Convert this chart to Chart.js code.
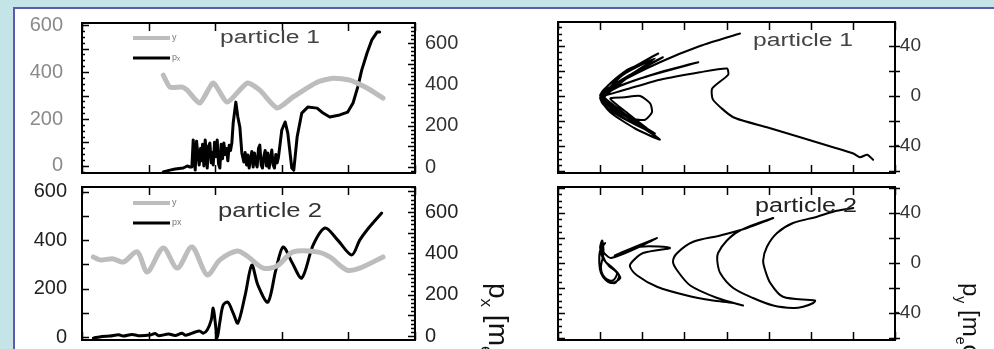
<!DOCTYPE html>
<html>
<head>
<meta charset="utf-8">
<script src="https://cdn.jsdelivr.net/npm/chart.js@4.4.1/dist/chart.umd.min.js"></script>
<style>
  html, body { margin: 0; padding: 0; }
  body { width: 994px; height: 349px; background: #c5e4e8; position: relative; overflow: hidden; }
  .panel { position: absolute; left: 13px; top: 7px; right: 0; bottom: 0; background: #fff;
           border-left: 2px solid #5c5caa; border-top: 2px solid #5c5caa; }
  canvas { position: absolute; display: block; }
</style>
</head>
<body>
<div class="panel"></div>
<canvas id="p1time" width="480" height="180" style="left:0;top:0"></canvas>
<canvas id="p2time" width="530" height="169" style="left:0;top:180px"></canvas>
<canvas id="p1phase" width="494" height="180" style="left:500px;top:0"></canvas>
<canvas id="p2phase" width="494" height="169" style="left:500px;top:180px"></canvas>
<script>
var FONT = '"Liberation Sans", Arial, Helvetica, sans-serif';
Chart.defaults.font.family = FONT;

// ---- particle 1, against time (top left) ----
var p1YTime = [1.22, 1.32, 1.50, 1.58, 1.77, 1.97, 2.18, 2.48, 2.67, 2.93, 3.17, 3.53, 3.77, 4.02, 4.28, 4.52];
var p1Y     = [387, 336, 336, 323, 268, 353, 272, 353, 323, 247, 294, 357, 374, 366, 332, 289];
var p1PxTime = [1.22, 1.32, 1.40, 1.52, 1.58, 1.62,
                1.65, 1.67, 1.69, 1.70, 1.72, 1.74, 1.76, 1.78, 1.79, 1.81, 1.83, 1.85, 1.87, 1.88,
                1.90, 1.92, 1.94, 1.96, 1.97, 1.99, 2.01, 2.03, 2.05, 2.07, 2.09, 2.11, 2.13, 2.15,
                2.17, 2.19, 2.21, 2.23, 2.25, 2.27,
                2.31, 2.34, 2.37, 2.40,
                2.43, 2.45, 2.47, 2.49, 2.51, 2.53, 2.55, 2.57, 2.59, 2.61, 2.63, 2.65, 2.67, 2.69,
                2.71, 2.73, 2.75, 2.77, 2.79, 2.81, 2.83, 2.85, 2.87, 2.89, 2.91, 2.93, 2.95,
                3.00, 3.05, 3.09, 3.15, 3.18, 3.23, 3.30, 3.39, 3.53, 3.62, 3.72, 3.87, 3.99, 4.07,
                4.14, 4.20, 4.28, 4.35, 4.43, 4.47];
var p1Px = [-24, -15, -10, -5, 5, 0,
            0, 131, 20, -15, 125, 60, 10, 90, 30, 110, 5, 131, 40, -5,
            100, 116, 20, 70, 10, 120, 50, 131, 15, -5, 110, 40, 116, 60,
            90, 30, 105, 80, 116, 213,
            314, 242, 194, 68,
            24, 70, 10, 58, -5, 40, 75, 0, 68, 20, 0, 90, 106, 10,
            -5, 50, 80, 5, 68, -5, 40, 82, 10, -5, 60, 20, 48,
            179, 218, 164, -5, -15, 145, 261, 290, 285, 261, 242, 252, 266, 310,
            387, 469, 552, 614, 653, 653];

// ---- particle 2, against time (bottom left) ----
var p2YTime = [0.17, 0.27, 0.47, 0.62, 0.83, 0.98, 1.22, 1.43, 1.65, 1.88, 2.07, 2.33, 2.48, 2.72, 2.93,
               3.17, 3.53, 3.72, 3.98, 4.17, 4.52];
var p2Y     = [331, 319, 323, 310, 352, 269, 368, 285, 372, 257, 319, 356, 335, 285, 294,
               352, 352, 331, 277, 285, 331];
var p2PxTime = [0.17, 0.30, 0.42, 0.55, 0.62, 0.75, 0.85, 1.02, 1.10, 1.15, 1.30, 1.40, 1.50, 1.55,
                1.62, 1.70, 1.77, 1.82, 1.88, 1.94, 1.97, 2.00, 2.03, 2.07, 2.12, 2.19,
                2.27, 2.34, 2.45, 2.55, 2.64, 2.79, 2.91, 3.02, 3.15, 3.30, 3.47, 3.65, 3.84, 4.05, 4.17,
                4.28, 4.50];
var p2Px = [-10, -2, 0, 6, 0, 8, 2, 5, 12, 2, 10, 3, 14, 4,
            10, 20, 24, 14, 29, 77, 135, 68, -10, 68, 150, 164,
            111, 63, 198, 343, 247, 164, 319, 431, 358, 281, 440, 523, 464, 392, 464,
            513, 595];

// ---- phase space (right column) ----
var p1PhX = [4.32, 3.37, 2.42, 1.47, 1.00, 1.24, 1.83, 2.42, 1.95, 1.28, 1.02, 1.59, 2.38, 1.71, 1.12,
             1.05, 1.59, 2.30, 1.76, 1.19, 1.00, 1.71, 2.49, 1.95, 1.24, 1.07, 1.52, 2.07, 2.19, 1.66,
             1.24, 1.59, 1.95, 2.19, 2.23, 2.07, 1.76, 1.47, 1.09,
             1.55, 2.30, 1.60, 1.02, 1.50, 2.35, 1.70, 1.05, 1.60, 2.20, 1.55, 1.03, 1.45, 2.10, 1.40, 1.04,
             1.95, 3.33, 2.42, 1.47, 1.05, 1.59,
             2.42, 3.37, 4.01, 4.04, 3.66, 3.68, 4.16, 4.96, 5.75, 6.53, 7.01, 7.17, 7.34, 7.48];
var p1PhY = [50, 40, 27, 11, -1, -13, -26, -35, -23, -7, 2, 19, 34, 21, 6,
             -3, -18, -30, -19, -6, 1, 17, 31, 21, 7, -5, -13, -25, -28, -14,
             -2, -1, 0, -6, -13, -19, -18, -11, 0,
             17, 30, 14, -3, -14, -33, -18, 2, 20, 28, 12, -4, -16, -27, -10, 1,
             14, 27, 19, 8, 0, 5,
             13, 19, 22, 17, 6, -3, -17, -25, -33, -41, -46, -49, -47, -51];
var p2PhX = [1.12, 1.00, 0.98, 1.02, 1.15, 1.35, 1.45, 1.30, 1.10, 1.00, 1.05, 1.08, 1.02, 1.12, 1.30,
             1.40, 1.20, 1.04, 1.06, 0.98, 1.05, 1.25, 1.48, 1.35, 1.15, 1.03, 1.26, 2.35, 1.35, 1.95,
             2.66, 2.02, 1.76, 1.71, 1.88, 2.35, 3.06, 3.68, 4.16, 4.39, 3.78, 3.14, 2.83,
             2.73, 2.83, 3.21, 3.85, 4.49, 5.11, 4.32, 4.01, 3.80, 3.78, 3.85, 4.16, 4.63, 5.11, 5.58,
             5.82, 6.06, 6.10, 5.34, 5.04, 4.92, 4.87, 4.96, 5.20, 5.58, 6.15, 6.53, 7.01];
var p2PhY = [16, 10, 0, -8, -14, -16, -10, -4, 2, 12, 18, 8, -4, -12, -14,
             -8, -2, 6, 16, 4, -10, -16, -12, -6, 0, 10, 4, 20, 6, 13,
             12, 8, 1, -3, -10, -19, -26, -30, -32, -34, -28, -18, -6,
             1, 8, 17, 22, 28, 36, 26, 18, 8, 2, -8, -20, -28, -34, -36,
             -35, -32, -30, -27, -16, -6, 2, 13, 24, 32, 37, 41, 44];

// tick labels
var timeTicks = [0, 200, 400, 600];
var phaseTicks = [-40, 0, 40];

function pairs(xs, ys) {
  return xs.map(function (x, i) { return { x: x, y: ys[i] }; });
}
function fixedTicks(values) {
  return function (scale) {
    scale.ticks = values.map(function (v) { return { value: v }; });
  };
}
// fixed axis width, and no extra room reserved for the end labels
function fixedWidth(w) {
  return function (scale) {
    scale.width = w;
    scale.paddingTop = 0;
    scale.paddingBottom = 0;
  };
}

// box with inward tick marks, drawn from the chart's own scales
var frameTicks = {
  id: 'frameTicks',
  afterDraw: function (chart, args, o) {
    var ctx = chart.ctx, a = chart.chartArea, xs = chart.scales.x;
    ctx.save();
    ctx.strokeStyle = '#000';
    ctx.lineWidth = 1.5;
    ctx.beginPath();
    for (var v = xs.min; v <= xs.max + 1e-9; v += o.xStep) {
      var px = Math.round(xs.getPixelForValue(v)) + 0.5;
      ctx.moveTo(px, a.bottom); ctx.lineTo(px, a.bottom - o.xLen);
      ctx.moveTo(px, a.top); ctx.lineTo(px, a.top + o.xLen);
    }
    [['left', a.left, 1], ['right', a.right, -1]].forEach(function (side) {
      var s = o[side[0]];
      if (!s) return;
      var sc = chart.scales[s.scale];
      for (var v = Math.ceil(sc.min / s.minor) * s.minor; v <= sc.max; v += s.minor) {
        var major = Math.abs(v / s.major - Math.round(v / s.major)) < 1e-6;
        var py = Math.round(sc.getPixelForValue(v)) + 0.5;
        var out = major && s.out ? s.out : 0;
        ctx.moveTo(side[1] - out * side[2], py);
        ctx.lineTo(side[1] + (major ? s.majorLen : s.minorLen) * side[2], py);
      }
    });
    ctx.stroke();
    ctx.lineWidth = 2;
    ctx.strokeRect(a.left, a.top, a.right - a.left, a.bottom - a.top);
    ctx.restore();
  }
};

// in-plot legend, panel label and the side title
var notes = {
  id: 'notes',
  afterDraw: function (chart, args, o) {
    var ctx = chart.ctx, a = chart.chartArea;
    if (o.legend) {
      chart.data.datasets.forEach(function (ds, i) {
        var x0 = a.left + o.legend.x, y = a.top + o.legend.y + i * o.legend.gap;
        ctx.save();
        ctx.strokeStyle = ds.borderColor;
        ctx.lineWidth = Math.min(ds.borderWidth, 4);
        ctx.beginPath(); ctx.moveTo(x0, y); ctx.lineTo(x0 + o.legend.len, y); ctx.stroke();
        ctx.fillStyle = '#777';
        ctx.font = '9px ' + FONT;
        ctx.textBaseline = 'alphabetic';
        ctx.fillText(ds.label, x0 + o.legend.len + 2, y + 2);
        ctx.restore();
      });
    }
    if (o.label) {
      var L = o.label;
      ctx.save();
      ctx.font = L.size + 'px ' + FONT;
      ctx.fillStyle = L.color;
      ctx.textBaseline = 'middle';
      var w = ctx.measureText(L.text).width;
      ctx.translate(L.x, L.y);
      ctx.scale(L.width / w, 1);
      ctx.fillText(L.text, 0, 0);
      ctx.restore();
    }
    if (o.title) {
      var T = o.title, cx = 0;
      ctx.save();
      ctx.translate(T.x, T.y);
      ctx.rotate(Math.PI / 2);
      ctx.fillStyle = '#111';
      ctx.textBaseline = 'alphabetic';
      T.parts.forEach(function (p) {
        ctx.font = (p.sub ? Math.round(T.size * 0.6) : T.size) + 'px ' + FONT;
        ctx.fillText(p.text, cx, p.sub ? T.size * 0.3 : 0);
        cx += ctx.measureText(p.text).width;
      });
      ctx.restore();
    }
  }
};

function hiddenGrid() {
  return { display: false, drawTicks: false };
}

// ---- top left ----
new Chart(document.getElementById('p1time'), {
  type: 'line',
  data: {
    datasets: [
      { label: 'y', data: pairs(p1YTime, p1Y), yAxisID: 'y', borderColor: '#bdbdbd', borderWidth: 5, tension: 0.2 },
      { label: 'p\u2093', data: pairs(p1PxTime, p1Px), yAxisID: 'y2', borderColor: '#000', borderWidth: 3, tension: 0 }
    ]
  },
  options: {
    responsive: false,
    animation: false,
    events: [],
    layout: { padding: { top: 23, bottom: 7 } },
    elements: { point: { radius: 0 }, line: { borderJoinStyle: 'round', borderCapStyle: 'round' } },
    scales: {
      x: { type: 'linear', min: 0, max: 5, display: false },
      y: { type: 'linear', position: 'left', min: -30, max: 609,
           afterBuildTicks: fixedTicks(timeTicks), afterFit: fixedWidth(82),
           grid: hiddenGrid(), border: { display: false },
           ticks: { padding: 19, color: '#8a8a8a', font: { size: 20 } } },
      y2: { type: 'linear', position: 'right', min: -29, max: 697,
            afterBuildTicks: fixedTicks(timeTicks), afterFit: fixedWidth(65),
            grid: hiddenGrid(), border: { display: false },
            ticks: { padding: 10, color: '#333', font: { size: 20 } } }
    },
    plugins: {
      legend: { display: false },
      tooltip: { enabled: false },
      frameTicks: { xStep: 1, xLen: 8,
                    left: { scale: 'y', major: 100, minor: 25, majorLen: 7, minorLen: 3 },
                    right: { scale: 'y2', major: 100, minor: 20, majorLen: 7, minorLen: 4 } },
      notes: { legend: { x: 51, y: 15, gap: 20, len: 37 },
               label: { text: 'particle 1', x: 220, y: 38, size: 18, width: 100, color: '#444' } }
    }
  },
  plugins: [frameTicks, notes]
});

// ---- bottom left ----
new Chart(document.getElementById('p2time'), {
  type: 'line',
  data: {
    datasets: [
      { label: 'y', data: pairs(p2YTime, p2Y), yAxisID: 'y', borderColor: '#bdbdbd', borderWidth: 5, tension: 0.3 },
      { label: 'px', data: pairs(p2PxTime, p2Px), yAxisID: 'y2', borderColor: '#000', borderWidth: 3, tension: 0.3 }
    ]
  },
  options: {
    responsive: false,
    animation: false,
    events: [],
    layout: { padding: { top: 7, bottom: 9 } },
    elements: { point: { radius: 0 }, line: { borderJoinStyle: 'round', borderCapStyle: 'round' } },
    scales: {
      x: { type: 'linear', min: 0, max: 5, display: false },
      y: { type: 'linear', position: 'left', min: -12, max: 620,
           afterBuildTicks: fixedTicks(timeTicks), afterFit: fixedWidth(82),
           grid: hiddenGrid(), border: { display: false },
           ticks: { padding: 15, color: '#222', font: { size: 20 } } },
      y2: { type: 'linear', position: 'right', min: -19, max: 721,
            afterBuildTicks: fixedTicks(timeTicks), afterFit: fixedWidth(115),
            grid: hiddenGrid(), border: { display: false },
            ticks: { padding: 10, color: '#222', font: { size: 20 } } }
    },
    plugins: {
      legend: { display: false },
      tooltip: { enabled: false },
      frameTicks: { xStep: 1, xLen: 8,
                    left: { scale: 'y', major: 100, minor: 100, majorLen: 7, minorLen: 7 },
                    right: { scale: 'y2', major: 100, minor: 20, majorLen: 7, minorLen: 4 } },
      notes: { legend: { x: 51, y: 16, gap: 20, len: 37 },
               label: { text: 'particle 2', x: 218, y: 31, size: 20, width: 104, color: '#333' },
               title: { x: 489, y: 103, size: 28,
                        parts: [{ text: 'p' }, { text: 'x', sub: true }, { text: ' [m' }, { text: 'e', sub: true }, { text: 'c]' }] } }
    }
  },
  plugins: [frameTicks, notes]
});

// ---- top right ----
new Chart(document.getElementById('p1phase'), {
  type: 'line',
  data: {
    datasets: [
      { label: 'particle 1', data: pairs(p1PhX, p1PhY), borderColor: '#000', borderWidth: 2, tension: 0.2 }
    ]
  },
  options: {
    responsive: false,
    animation: false,
    events: [],
    layout: { padding: { top: 22, bottom: 7, left: 58, right: 73 } },
    elements: { point: { radius: 0 }, line: { borderJoinStyle: 'round', borderCapStyle: 'round' } },
    scales: {
      x: { type: 'linear', min: 0, max: 8, display: false },
      y: { type: 'linear', position: 'right', min: -61.6, max: 59.2,
           afterBuildTicks: fixedTicks(phaseTicks), afterFit: fixedWidth(26),
           grid: hiddenGrid(), border: { display: false },
           ticks: { padding: 0, crossAlign: 'far', color: '#333', font: { size: 19 } } }
    },
    plugins: {
      legend: { display: false },
      tooltip: { enabled: false },
      frameTicks: { xStep: 1, xLen: 8,
                    left: { scale: 'y', major: 20, minor: 5, majorLen: 7, minorLen: 4 },
                    right: { scale: 'y', major: 20, minor: 20, majorLen: 6, minorLen: 6, out: 5 } },
      notes: { label: { text: 'particle 1', x: 253, y: 41, size: 18, width: 100, color: '#444' } }
    }
  },
  plugins: [frameTicks, notes]
});

// ---- bottom right ----
new Chart(document.getElementById('p2phase'), {
  type: 'line',
  data: {
    datasets: [
      { label: 'particle 2', data: pairs(p2PhX, p2PhY), borderColor: '#000', borderWidth: 2, tension: 0.3 }
    ]
  },
  options: {
    responsive: false,
    animation: false,
    events: [],
    layout: { padding: { top: 7, bottom: 9, left: 58, right: 73 } },
    elements: { point: { radius: 0 }, line: { borderJoinStyle: 'round', borderCapStyle: 'round' } },
    scales: {
      x: { type: 'linear', min: 0, max: 8, display: false },
      y: { type: 'linear', position: 'right', min: -61.6, max: 60.8,
           afterBuildTicks: fixedTicks(phaseTicks), afterFit: fixedWidth(26),
           grid: hiddenGrid(), border: { display: false },
           ticks: { padding: 0, crossAlign: 'far', color: '#333', font: { size: 19 } } }
    },
    plugins: {
      legend: { display: false },
      tooltip: { enabled: false },
      frameTicks: { xStep: 1, xLen: 8,
                    left: { scale: 'y', major: 20, minor: 5, majorLen: 7, minorLen: 4 },
                    right: { scale: 'y', major: 20, minor: 20, majorLen: 6, minorLen: 6, out: 5 } },
      notes: { label: { text: 'particle 2', x: 255, y: 26, size: 20, width: 102, color: '#222' },
               title: { x: 463, y: 103, size: 24,
                        parts: [{ text: 'p' }, { text: 'y', sub: true }, { text: ' [m' }, { text: 'e', sub: true }, { text: 'c]' }] } }
    }
  },
  plugins: [frameTicks, notes]
});
</script>
</body>
</html>
